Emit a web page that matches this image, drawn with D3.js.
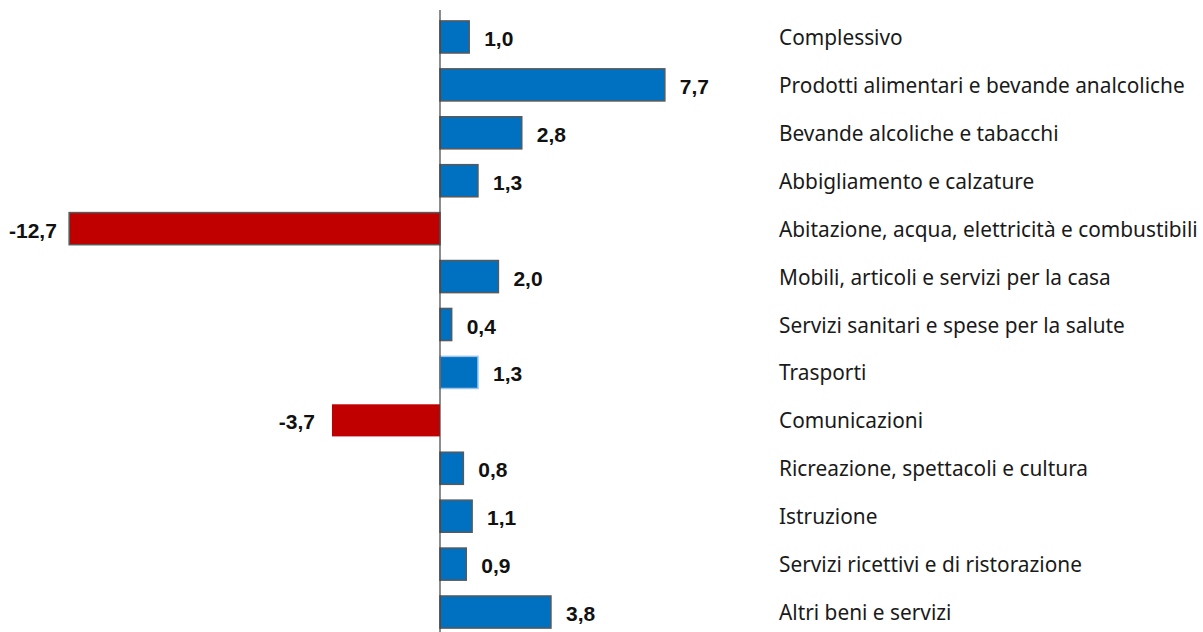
<!DOCTYPE html>
<html><head><meta charset="utf-8">
<script src="https://cdn.jsdelivr.net/npm/d3@7"></script>
<style>body{margin:0;background:#fff}</style>
</head><body>
<svg id="c" width="1203" height="632"></svg>
<script>
const categories = ["Complessivo","Prodotti alimentari e bevande analcoliche","Bevande alcoliche e tabacchi","Abbigliamento e calzature","Abitazione, acqua, elettricità e combustibili","Mobili, articoli e servizi per la casa","Servizi sanitari e spese per la salute","Trasporti","Comunicazioni","Ricreazione, spettacoli e cultura","Istruzione","Servizi ricettivi e di ristorazione","Altri beni e servizi"];
const values = [1.0,7.7,2.8,1.3,-12.7,2.0,0.4,1.3,-3.7,0.8,1.1,0.9,3.8];
const labels = ["1,0","7,7","2,8","1,3","-12,7","2,0","0,4","1,3","-3,7","0,8","1,1","0,9","3,8"];

const svg = d3.select("#c");
const x = d3.scaleLinear().domain([0, 1]).range([440, 469.2]);
const y = d3.scaleBand().domain(categories).range([13, 636]).paddingInner(0.33).paddingOuter(0.165);

svg.selectAll("rect.bar").data(values).join("rect")
  .attr("class","bar")
  .attr("x", d => Math.min(x(d), x(0)))
  .attr("width", d => Math.abs(x(d) - x(0)))
  .attr("y", (d,i) => y(categories[i]))
  .attr("height", y.bandwidth())
  .attr("fill", d => d < 0 ? "#C00000" : "#0070C0")
  .attr("stroke", (d,i) => categories[i] === "Comunicazioni" ? "none" : (categories[i] === "Trasporti" ? "#9DC3E6" : "#595959"))
  .attr("stroke-width", 1.5);

svg.append("line").attr("x1", x(0)).attr("x2", x(0)).attr("y1", 10).attr("y2", 632)
  .attr("stroke", "#404040").attr("stroke-width", 1.2);

svg.selectAll("text.val").data(values).join("text")
  .attr("class","val")
  .attr("font-family","Liberation Sans, Arial, sans-serif")
  .attr("font-weight","bold").attr("font-size", 21).attr("fill","#111")
  .attr("dominant-baseline","central")
  .attr("y", (d,i) => y(categories[i]) + y.bandwidth()/2 + 1.5)
  .attr("text-anchor", d => d < 0 ? "end" : "start")
  .attr("x", d => d < 0 ? x(d) - 17 : x(d) + 15)
  .text((d,i) => labels[i])
  .each(function(d){
    if (d < 0) {
      const w = this.getComputedTextLength();
      const xe = +this.getAttribute("x");
      if (xe - w < 9) this.setAttribute("x", 9 + w);
    }
  });

const cat = svg.selectAll("text.cat").data(categories).join("text")
  .attr("class","cat")
  .attr("font-family","Noto Sans, Open Sans, sans-serif")
  .attr("font-size", 18).attr("fill","#1a1a1a")
  .attr("dominant-baseline","central")
  .attr("x", 779)
  .attr("y", d => y(d) + y.bandwidth()/2)
  .text(d => d);
let maxW = 0; cat.each(function(){ maxW = Math.max(maxW, this.getComputedTextLength()); });
const fs = 18 * 419 / maxW;
cat.attr("font-size", fs);
</script>
</body></html>
